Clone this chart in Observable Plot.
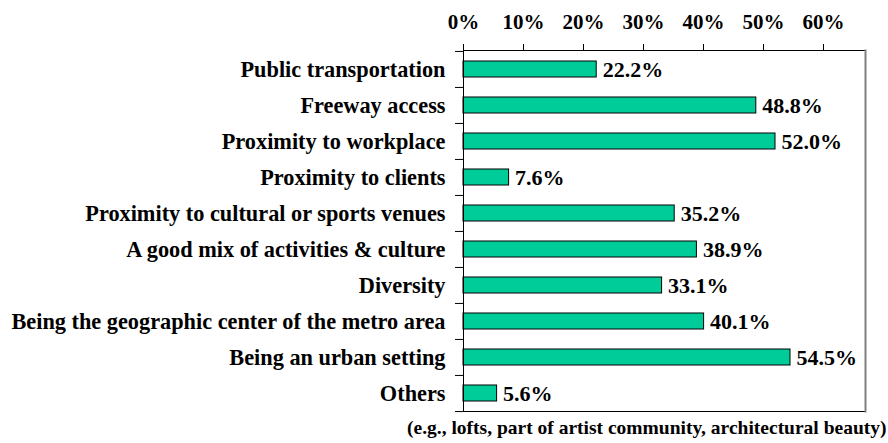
<!DOCTYPE html>
<html>
<head>
<meta charset="utf-8">
<script src="https://cdn.jsdelivr.net/npm/d3@7"></script>
<script src="https://cdn.jsdelivr.net/npm/@observablehq/plot@0.6"></script>
<style>
  html, body { margin: 0; padding: 0; background: #fff; }
  svg { display: block; }
</style>
</head>
<body>
<div id="chart"></div>
<script>
const categories = [
  "Public transportation",
  "Freeway access",
  "Proximity to workplace",
  "Proximity to clients",
  "Proximity to cultural or sports venues",
  "A good mix of activities & culture",
  "Diversity",
  "Being the geographic center of the metro area",
  "Being an urban setting",
  "Others"
];
const values = [22.2, 48.8, 52.0, 7.6, 35.2, 38.9, 33.1, 40.1, 54.5, 5.6];
const xTicks = [0, 10, 20, 30, 40, 50, 60];
const caption = ["(e.g., lofts, part of artist community, architectural beauty)"];

const data = categories.map((c, i) => ({label: c, value: values[i]}));

const W = 888, H = 443;
const mTop = 50, mBottom = 32, mLeft = 463, mRight = 23;
const step = (H - mTop - mBottom) / categories.length;
const font = "'Liberation Serif', 'Times New Roman', serif";

const chart = Plot.plot({
  width: W,
  height: H,
  marginTop: mTop,
  marginBottom: mBottom,
  marginLeft: mLeft,
  marginRight: mRight,
  style: {fontFamily: font, fontWeight: "bold", color: "black", background: "white"},
  x: {domain: [0, 67], axis: null, label: null},
  y: {domain: categories, paddingInner: 0.56, paddingOuter: 0.28, axis: null, label: null},
  marks: [
    Plot.barX(data, {x: "value", y: "label", fill: "#00CC99", stroke: "black", strokeWidth: 1}),
    Plot.text(data, {
      x: "value", y: "label",
      text: d => d.value.toFixed(1) + "%",
      textAnchor: "start", dx: 6, fontSize: 22, fontWeight: "bold", fill: "black"
    }),
    Plot.axisX({
      anchor: "top", ticks: xTicks, tickSize: 7, tickPadding: 15, label: null,
      tickFormat: d => d + "%", fontSize: 21, fontWeight: "bold", stroke: "black", fill: "black"
    }),
    Plot.axisY({
      anchor: "left", tickSize: 0, tickPadding: 18, label: null,
      fontSize: 22.3, fontWeight: "bold", fill: "black"
    }),
    Plot.axisY({
      anchor: "left", tickSize: 8, tickFormat: () => "", label: null, dy: -step / 2, stroke: "black"
    }),
    Plot.axisY({
      anchor: "left", ticks: categories.slice(-1), tickSize: 8, tickFormat: () => "", label: null, dy: step / 2, stroke: "black"
    }),
    Plot.frame({anchor: "top", stroke: "black"}),
    Plot.frame({anchor: "bottom", stroke: "black"}),
    Plot.frame({anchor: "left", stroke: "black"}),
    Plot.frame({anchor: "right", stroke: "#808080", strokeWidth: 2}),
    Plot.text(caption, {
      text: d => d, frameAnchor: "bottom-right", textAnchor: "end",
      dx: 21, dy: 22, fontSize: 19.5, fontWeight: "bold", fill: "black"
    })
  ]
});
document.getElementById("chart").appendChild(chart);
</script>
</body>
</html>
